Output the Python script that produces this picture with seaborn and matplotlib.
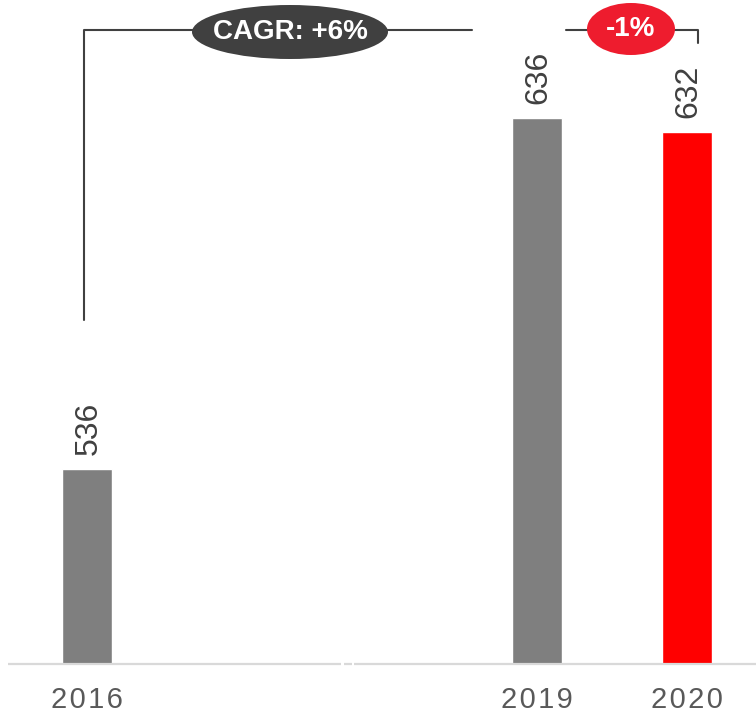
import matplotlib
matplotlib.use("Agg")
import matplotlib.pyplot as plt
from matplotlib.patches import Ellipse
import seaborn as sns
import pandas as pd

# ---- data ----
categories = ["2016", "2017", "2018", "2019", "2020"]
years = ["2016", "2019", "2020"]
values = [536, 636, 632]
bar_colors = ["#7f7f7f", "#7f7f7f", "#ff0000"]
cagr_label = "CAGR: +6%"
yoy_label = "-1%"

sns.set_theme(style="white")
plt.rcParams["font.family"] = ["Liberation Sans", "DejaVu Sans"]

df = pd.DataFrame({"year": years, "value": values})
palette = dict(zip(years, bar_colors))

fig = plt.figure(figsize=(7.56, 7.14), dpi=100)
W, H = 756, 714
ax = fig.add_axes([0, (H - 664) / H, 1, 664 / H])

sns.barplot(data=df, x="year", y="value", hue="year", order=categories,
            palette=palette, width=0.333, legend=False, saturation=1, ax=ax)

# axis mapping: x_px = 87 + 150*v ; baseline 480.4, 3.51 px / unit
ax.set_xlim((0 - 87) / 150, (756 - 87) / 150)
ybase = 480.4
ax.set_ylim(ybase, ybase + 664 / 3.51)

for s in ax.spines.values():
    s.set_visible(False)
ax.set_yticks([])
pos = [categories.index(y) for y in years]
ax.set_xticks(pos)
ax.set_xticklabels(["\u200a".join(y) for y in years], fontsize=21, color="#595959",
                   family=["Liberation Sans", "DejaVu Sans"])
ax.tick_params(axis="x", length=0, pad=16)
ax.set_xlabel("")
ax.set_ylabel("")

# baseline with break mark
xl = (8 - 87) / 150
xb1, xb2, xb3, xb4 = (341 - 87) / 150, (344 - 87) / 150, (352 - 87) / 150, (354 - 87) / 150
xr = (756 - 87) / 150
for a, b in [(xl, xb1), (xb2, xb3), (xb4, xr)]:
    ax.plot([a, b], [ybase, ybase], color="#d9d9d9", lw=1.6, clip_on=False,
            solid_capstyle="butt", zorder=1)

# value labels
for p, v in zip(pos, values):
    ax.annotate(f"{v}", xy=(p, v), xytext=(1, 10), textcoords="offset points",
                rotation=90, ha="center", va="bottom", fontsize=23, color="#404040")

# brackets
lc = "#404040"
top_y = ybase + (664 - 30) / 3.51
x0 = pos[0] - 0.02
ax.plot([x0, x0, (472 - 87) / 150], [ybase + (664 - 320) / 3.51, top_y, top_y],
        color=lc, lw=1.5, clip_on=False, zorder=3)
xr0 = (566 - 87) / 150
xr1 = (698 - 87) / 150
ax.plot([xr0, xr1, xr1], [top_y, top_y, ybase + (664 - 43) / 3.51],
        color=lc, lw=1.5, clip_on=False, zorder=3)

# ellipses
e1 = Ellipse(((290 - 87) / 150, ybase + (664 - 32) / 3.51), 196 / 150, 54 / 3.51,
             facecolor="#404040", edgecolor="none", clip_on=False, zorder=4)
ax.add_patch(e1)
ax.text((290 - 87) / 150, ybase + (664 - 32) / 3.51, cagr_label, ha="center", va="center",
        color="white", fontsize=20, fontweight="bold", zorder=5)
e2 = Ellipse(((631 - 87) / 150, ybase + (664 - 29) / 3.51), 88 / 150, 52 / 3.51,
             facecolor="#ee1c2e", edgecolor="none", clip_on=False, zorder=4)
ax.add_patch(e2)
ax.text((631 - 87) / 150, ybase + (664 - 29) / 3.51, yoy_label, ha="center", va="center",
        color="white", fontsize=20, fontweight="bold", zorder=5)

fig.savefig("out.png", dpi=100)
